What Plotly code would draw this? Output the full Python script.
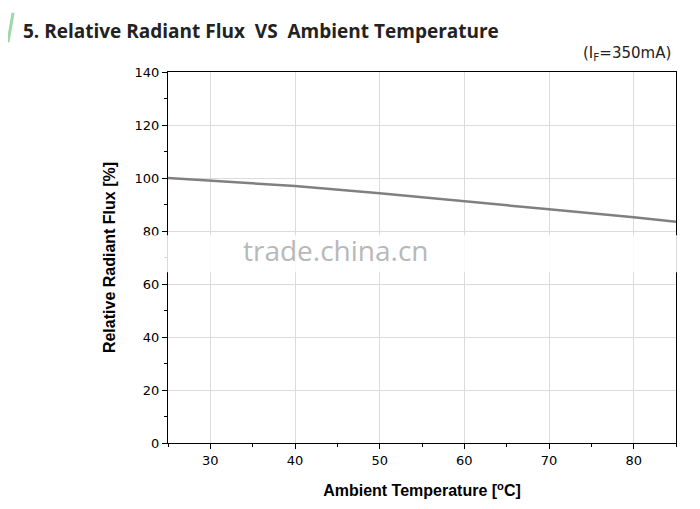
import plotly.graph_objects as go

# data
temp = [25, 30, 40, 50, 60, 70, 80, 85]
flux = [100, 99, 97, 94.2, 91.3, 88.2, 85.2, 83.5]

fig = go.Figure()
fig.add_trace(go.Scatter(x=temp, y=flux, mode='lines',
                         line=dict(color='#808080', width=2.5), showlegend=False))

axis_common = dict(showline=True, linecolor='black', linewidth=1, mirror=True,
                   ticks='outside', ticklen=5, tickcolor='black',
                   showgrid=True, gridcolor='#dcdcdc', gridwidth=1, zeroline=False,
                   tickfont=dict(family='DejaVu Sans', size=13, color='black'))

fig.update_xaxes(range=[25, 85], dtick=10, tick0=30,
                 minor=dict(dtick=5, ticks='outside', ticklen=3, tickcolor='black', showgrid=False),
                 title=dict(text='<b>Ambient Temperature [<sup>o</sup>C]</b>',
                            font=dict(family='Liberation Sans', size=16, color='black'), standoff=18),
                 **axis_common)
fig.update_yaxes(range=[0, 140], dtick=20,
                 minor=dict(dtick=10, ticks='outside', ticklen=3, tickcolor='black', showgrid=False),
                 title=dict(text='<b>Relative Radiant Flux [%]</b>',
                            font=dict(family='Liberation Sans', size=16, color='black'), standoff=14),
                 **axis_common)

fig.update_layout(
    width=700, height=509,
    paper_bgcolor='white', plot_bgcolor='white',
    margin=dict(l=160, r=32, t=64, b=74),
    shapes=[
        dict(type='rect', xref='paper', yref='paper', x0=-0.5, x1=1.1, y0=0.46, y1=0.56,
             fillcolor='rgba(255,255,255,0.85)', line=dict(width=0), layer='above'),
        dict(type='line', xref='paper', yref='paper', x0=-0.315, x1=-0.305, y0=1.08, y1=1.16,
             line=dict(color='#9fd8a8', width=3)),
    ],
    annotations=[
        dict(text='<b>5. Relative Radiant Flux  VS  Ambient Temperature</b>', xref='paper', yref='paper',
             x=-0.29, y=1.11, xanchor='left', yanchor='middle', showarrow=False,
             font=dict(family='Open Sans', size=19, color='#222')),
        dict(text='(I<sub>F</sub>=350mA)', xref='paper', yref='paper', x=0.995, y=1.05,
             xanchor='right', yanchor='middle', showarrow=False,
             font=dict(family='DejaVu Sans', size=15, color='#222')),
        dict(text='trade.china.cn', xref='paper', yref='paper', x=0.33, y=0.52,
             xanchor='center', yanchor='middle', showarrow=False,
             font=dict(family='Open Sans', size=28, color='#b8b8b8')),
    ],
)

fig.write_html("out.html")
